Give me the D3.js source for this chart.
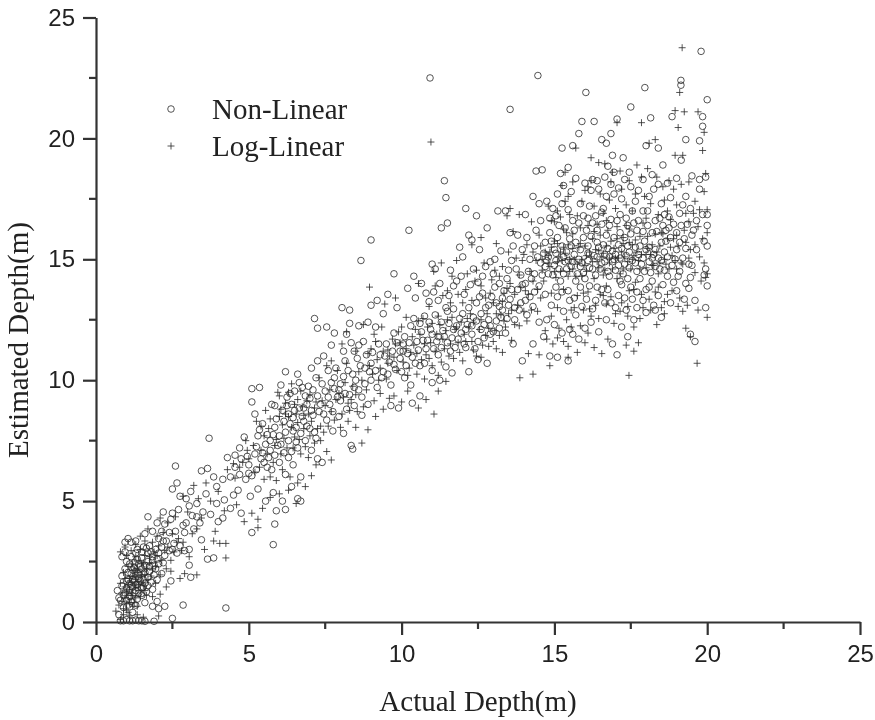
<!DOCTYPE html>
<html>
<head>
<meta charset="utf-8">
<script src="https://cdn.jsdelivr.net/npm/d3@7"></script>
<style>
  html, body { margin: 0; background: #fff; }
  svg { display: block; filter: blur(0.4px); }
  .tick-label { font-family: "Liberation Sans", Arial, sans-serif; font-size: 24px; fill: #222; }
  .title, .legend-label { font-family: "Liberation Serif", "Times New Roman", serif; font-size: 29px; fill: #222; }
</style>
</head>
<body>
<svg width="875" height="720"></svg>
<script>
// values, [actual, estimated]
var nonLinear = [
[0.8,0.05],[0.9,0.05],[1.0,0.1],[1.1,0.05],[1.2,0.05],[1.3,0.08],[1.4,0.05],[1.5,0.05],[1.6,0.03],[1.9,0.03],[2.5,0.15],[0.75,0.3],[0.9,0.6],[1.2,0.4],[1.3,0.7],[1.0,0.9],
[0.7,1.3],[0.75,1.0],[0.85,1.5],[0.95,1.2],[1.1,1.05],[1.25,1.2],[1.35,0.95],[1.5,1.1],[1.6,0.8],[1.85,0.65],[2.0,0.85],[2.25,0.65],[2.85,0.7],[4.25,0.58],[2.05,0.55],[1.55,1.45],
[0.85,1.9],[0.95,2.2],[1.05,1.75],[1.15,2.0],[1.3,1.55],[1.4,1.8],[1.55,1.75],[1.7,1.5],[1.85,1.35],[1.75,2.1],[1.45,2.3],[1.25,2.45],[1.0,2.5],[0.85,2.7],[0.95,2.9],[1.05,3.45],[1.15,3.3],[0.95,3.3],
[1.3,2.85],[1.5,2.65],[1.7,2.5],[1.9,2.35],[2.15,2.0],[2.45,1.7],[3.1,1.85],[1.55,3.1],[1.75,3.15],[1.95,3.0],[2.15,3.1],[2.4,2.95],[2.65,2.85],[2.9,2.95],[1.3,3.35],[1.6,3.65],[1.85,3.75],[2.05,3.45],[2.3,3.35],[2.55,3.25],
[1.7,4.35],[2.0,4.1],[2.2,4.55],[2.45,4.25],[2.6,3.75],[2.85,4.0],[2.15,3.75],[2.7,4.65],[2.95,4.1],[3.15,4.4],[3.05,3.0],[3.05,2.35],[3.45,3.4],[3.85,2.65],[3.65,2.6],
[2.6,6.45],[2.65,5.75],[2.5,5.5],[2.75,5.2],[2.95,5.1],[3.1,5.4],[3.3,4.9],[3.45,6.25],[3.65,6.35],[3.7,7.6],[3.85,6.0],[3.6,5.3],[3.95,4.9],[4.15,4.3],[4.4,4.7],[4.75,4.5],[5.1,3.7],[5.8,3.2],[5.85,4.05],[5.9,4.6],[6.2,4.65],
[3.95,5.6],[4.15,5.9],[4.3,6.8],[4.55,6.9],[4.7,7.2],[4.85,7.65],[5.0,6.5],[4.4,6.0],[4.65,5.45],[4.9,5.9],[5.05,5.2],[5.3,5.5],[5.55,5.0],[5.8,5.35],[6.1,5.0],[6.4,5.6],[6.6,5.1],[6.7,5.0],
[5.1,9.65],[5.1,9.1],[5.2,8.6],[5.35,9.7],[5.45,8.2],[5.3,7.7],[5.55,7.35],[5.7,7.1],[5.2,6.95],[5.5,6.6],[5.75,6.3],[6.0,6.6],[6.2,6.1],[6.45,6.5],[6.7,6.0],[5.85,8.05],[6.0,7.7],[6.15,8.3],[6.3,7.5],[6.45,7.9],[6.6,7.2],[6.85,7.5],[7.05,7.1],[7.25,6.75],[7.4,6.6],
[5.75,9.0],[5.85,8.95],[6.05,9.8],[6.2,10.35],[6.35,9.45],[6.5,8.75],[6.6,10.25],[6.75,9.7],[6.9,9.0],[7.1,8.55],[7.25,9.35],[7.4,9.85],[7.55,8.35],[7.75,7.9],[7.95,8.5],[8.1,7.8],[8.4,7.15],[8.35,7.3],[7.15,12.55],[7.25,12.15],[7.55,12.2],[7.7,11.45],[7.8,11.95],
[7.05,10.5],[7.25,10.8],[7.45,11.0],[7.6,10.4],[7.8,10.1],[7.95,9.6],[8.1,10.15],[8.3,9.4],[8.5,10.0],[8.7,9.3],[8.9,9.0],[8.05,13.0],[8.3,12.9],[8.3,12.35],[8.6,12.25],[8.75,11.6],[8.1,11.2],[8.35,11.55],[8.55,10.9],[8.8,10.5],[9.0,10.0],[9.2,9.7],[9.4,10.35],[9.65,9.8],
[8.67,14.95],[9.0,15.8],[9.0,13.1],[9.2,13.3],[9.15,12.2],[9.4,12.75],[9.55,13.55],[9.75,14.4],[9.85,13.0],[9.5,11.5],[9.75,11.95],[9.95,11.2],[10.0,10.35],[10.15,10.6],[10.3,9.8],[9.9,8.85],[10.35,9.05],[10.6,9.35],[9.65,8.95],[10.2,13.8],[10.24,16.2],[10.4,14.3],[10.45,13.4],[10.65,14.0],[10.8,13.6],
[10.1,11.8],[10.3,12.25],[10.5,11.6],[10.65,12.0],[10.8,11.3],[11.0,11.9],[11.2,11.05],[10.75,10.7],[11.0,10.4],[11.25,10.0],[11.0,9.9],[11.45,10.55],[11.65,10.3],[10.93,22.5],[11.0,14.8],[11.1,14.6],[11.2,13.3],[11.3,16.3],[11.4,18.25],[11.5,16.5],[11.45,17.55],[11.6,14.55],[11.7,13.9],[11.3,12.4],[11.5,12.85],[11.7,12.1],[11.9,12.55],
[11.9,15.5],[12.0,15.1],[12.1,17.1],[12.2,16.0],[12.3,15.8],[12.45,16.8],[12.65,14.3],[12.8,16.3],[12.9,14.9],[13.05,15.0],[13.15,17.0],[12.05,13.55],[12.25,13.95],[12.45,13.2],[12.65,13.6],[12.85,13.1],[13.05,13.85],[12.1,11.35],[12.3,11.9],[12.5,11.6],[12.7,12.3],[12.9,11.9],[13.1,12.45],[12.2,10.35],[12.5,10.85],[12.8,10.7],
[13.3,13.4],[13.45,14.2],[13.6,14.95],[13.55,21.2],[13.4,17.0],[13.55,16.1],[13.75,14.6],[13.95,15.4],[14.1,15.9],[14.25,14.2],[14.4,16.2],[14.3,17.6],[14.4,18.65],[14.46,22.6],[14.6,18.7],[14.5,17.3],[13.25,12.6],[13.5,13.1],[13.7,12.5],[13.9,13.2],[14.1,12.7],[14.3,13.05],[14.5,12.4],[13.4,11.95],[13.65,11.5],[13.95,10.8],[14.3,11.5],[14.65,11.8],
[14.7,15.7],[14.85,16.1],[15.0,15.4],[15.15,16.4],[15.3,15.1],[14.8,14.4],[15.0,14.75],[15.2,14.1],[15.4,14.6],[15.55,15.55],[14.7,13.55],[14.9,13.1],[15.1,13.45],[15.3,12.85],[15.5,13.3],[15.7,12.7],[14.95,17.1],[15.1,17.7],[15.3,18.05],[15.45,18.8],[15.6,19.7],[15.8,20.2],[15.9,20.7],[15.2,18.55],[15.25,19.6],
[15.65,16.2],[15.8,15.0],[15.95,16.8],[16.1,15.25],[16.25,14.6],[16.4,15.7],[16.55,14.85],[15.7,14.1],[15.95,14.45],[16.15,13.9],[16.35,13.3],[16.55,13.75],[15.6,11.9],[15.45,10.8],[15.8,11.7],[16.0,12.15],[16.2,12.4],[16.45,12.0],[16.7,12.5],[16.03,21.9],[16.3,20.7],[16.55,19.95],[16.7,19.8],[16.85,20.2],[16.9,19.3],[16.25,18.3],[16.45,17.9],[16.65,18.4],[16.85,18.1],[16.15,17.2],[16.35,16.8],[16.6,17.1],[16.8,16.4],[16.95,17.7],
[16.75,15.45],[16.95,15.0],[17.1,15.6],[17.3,14.8],[17.45,15.3],[16.8,14.3],[17.0,14.55],[17.2,13.95],[17.4,14.2],[16.85,13.2],[17.1,13.5],[17.35,12.9],[17.55,13.35],[16.9,11.5],[17.05,11.05],[17.2,12.2],[17.4,11.8],[17.6,12.5],[17.05,20.8],[17.5,21.3],[17.2,17.5],[17.35,16.7],[17.5,18.0],[17.65,17.4],[17.25,19.2],[17.45,18.6],[17.96,22.1],[18.0,19.7],[18.15,20.85],[17.7,16.2],
[17.75,15.2],[17.95,15.75],[18.1,14.9],[18.3,15.4],[18.45,14.6],[17.8,14.2],[18.0,13.75],[18.2,14.1],[18.4,13.5],[17.7,13.0],[18.0,12.8],[18.25,13.1],[18.5,12.6],[17.9,17.0],[18.1,17.6],[18.3,16.6],[18.5,17.3],[18.65,16.2],[18.2,18.5],[18.4,19.6],[18.55,18.9],[18.7,18.15],[18.85,20.9],[19.14,22.4],[19.14,22.2],
[18.6,15.3],[18.8,15.9],[18.95,15.0],[19.15,16.4],[19.3,15.45],[18.7,14.3],[18.9,14.05],[19.1,14.5],[19.3,14.0],[19.45,14.25],[19.1,16.9],[19.3,17.6],[19.5,18.45],[19.45,17.1],[19.15,19.1],[19.3,19.95],[19.55,16.2],[19.6,11.6],[19.45,11.9],[19.6,13.3],[19.5,14.75],[19.65,15.4],[19.65,16.6],[19.75,18.3],[19.8,23.6],[19.75,19.9],[19.85,20.5],[19.85,20.9],[19.75,17.9],[19.85,16.85],[19.9,15.75],[20.0,21.6],[19.95,18.4],[20.0,16.85],[20.0,16.4],[20.0,15.55],[19.95,14.6],[19.9,14.35],[20.0,13.9],[19.95,13.0],
[6.3,8.6],[6.55,8.05],[6.8,8.3],[7.0,8.0],[7.2,7.6],[6.95,9.75],[7.3,8.7],[7.6,9.3],[7.8,9.65],[8.0,9.15],[8.2,8.8],[8.45,8.95],[8.7,8.55],[8.15,10.8],[9.05,11.15],[9.3,11.05],[9.6,10.75],[9.8,10.45],[10.05,11.2],[10.35,10.95],[10.6,10.6],[10.9,12.4],[11.15,11.6],[11.4,11.8],[11.6,11.2],[11.85,11.7],[12.1,12.1],[12.35,12.6],[12.6,12.75],[12.85,12.5],[13.2,13.05],[13.55,13.35],[13.8,13.75],[14.05,14.0],[14.35,14.4],[14.55,14.85],[14.75,14.95],[15.05,15.25],[15.35,14.9],[15.6,14.9],[15.85,14.7],[16.1,14.95],[16.4,15.1],[16.65,15.2],[16.9,15.35],[17.15,15.05],[17.4,15.55],[17.65,14.85],[17.9,15.05],[18.2,15.05],[18.5,15.7],[18.75,16.3],[19.0,16.1],[19.25,15.85],[19.5,16.0],
[1.0,1.4],[1.1,1.6],[1.2,1.75],[1.3,2.1],[1.4,2.0],[1.5,2.2],[1.15,2.7],[1.25,2.25],[1.35,2.6],[1.6,2.35],[1.7,2.85],[1.85,2.7],[2.0,2.6],[2.25,2.75],[3.3,4.35],[3.5,4.55],[3.75,4.45],[4.0,4.15],[4.2,5.05],[4.5,5.25],[4.7,6.1],[5.0,6.15],[5.25,6.3],[5.45,7.0],[5.65,6.8],[5.95,7.3],[6.15,7.0],[6.4,7.05],[6.25,8.95],[6.8,8.85],[7.0,9.25],
// denser part of the cloud
[0.8,0.9],[0.9,1.1],[1.0,1.7],[1.05,0.7],[1.1,1.3],[1.15,0.85],[1.2,1.45],[1.25,1.7],[1.3,1.3],[1.35,1.55],[1.4,1.2],[1.45,1.7],[1.5,1.4],[1.55,2.0],[1.6,1.6],[1.65,1.25],[1.7,1.85],[1.8,1.65],[1.9,1.95],[2.0,1.75],[1.05,2.05],[1.1,2.4],[1.2,2.15],[1.4,2.4],[1.6,2.05],[1.75,2.3],[1.85,2.55],[1.95,2.2],[2.05,2.4],[2.2,2.45],[1.35,3.0],[1.5,2.9],[1.65,3.05],[1.8,2.9],[2.05,2.85],[2.2,3.35],[2.4,3.7],[2.5,3.0],[2.75,3.15],[2.25,4.05],[2.5,4.5],[2.9,3.7],[3.2,3.85],[3.05,4.8],[3.4,4.1],
[4.55,6.4],[4.75,6.75],[4.95,6.85],[5.1,6.05],[5.25,7.25],[5.4,6.75],[5.35,7.95],[5.6,6.4],[5.6,7.75],[5.7,7.5],[5.8,7.75],[5.85,6.9],[5.9,8.4],[6.05,7.35],[6.1,8.75],[6.2,7.85],[6.25,9.3],[6.3,6.8],[6.35,8.2],[6.4,9.0],[6.45,8.45],[6.5,9.55],[6.55,7.45],[6.65,8.85],[6.65,9.9],[6.7,7.8],[6.75,8.5],[6.85,9.35],[6.9,8.1],[7.05,8.75],[7.1,9.6],[7.15,7.85],[7.2,10.1],[7.35,9.0],[7.45,8.6],[7.5,9.55],[7.65,9.0],[7.7,9.9],[7.75,8.7],[7.85,10.5],[7.9,9.3],[8.0,9.85],[8.15,9.45],[8.25,10.4],[8.4,10.25],[8.45,9.7],[8.6,9.6],[8.65,10.6],[8.8,9.85],[8.95,10.35],[8.2,11.9],[8.45,11.2],[8.6,11.45],[8.85,11.05],[8.9,12.4],
[9.0,10.7],[9.15,10.4],[9.25,11.5],[9.35,10.1],[9.45,11.0],[9.55,10.25],[9.7,11.2],[9.75,10.65],[9.85,11.55],[9.95,10.9],[10.05,11.5],[10.1,10.1],[10.2,11.1],[10.25,11.55],[10.4,12.55],[10.45,10.7],[10.55,11.25],[10.6,12.35],[10.7,11.65],[10.75,12.65],[10.85,11.65],[10.95,12.1],[11.05,11.3],[11.1,12.7],[11.2,11.8],[11.3,11.35],[11.35,12.05],[11.45,13.0],[11.5,11.55],[11.55,12.35],[11.65,11.75],[11.7,12.95],[11.75,11.35],[11.8,12.25],[11.95,11.95],[12.0,12.75],[12.05,11.5],[12.15,12.3],[12.2,13.0],[12.3,12.25],[12.4,11.3],[12.45,12.45],[12.55,13.45],[12.6,12.1],[12.7,11.75],[12.75,13.0],[12.9,12.25],[12.95,13.45],[13.0,12.0],[13.1,13.2],[13.2,12.15],[13.3,12.9],[13.35,13.7],[13.45,12.55],[13.6,13.75],[13.7,13.0],[13.85,12.9],[13.95,13.95],[14.05,13.3],[14.15,14.5],[14.2,13.45],[14.35,13.65],[14.45,15.1],[14.5,13.9],[14.6,14.35],
[10.9,13.25],[11.05,13.65],[11.25,14.0],[11.55,13.5],[11.8,14.1],[11.95,14.3],[12.35,14.6],[12.5,14.05],[12.55,15.4],[12.75,14.7],[13.0,14.4],[13.2,14.0],[13.25,15.35],[13.5,14.55],[13.65,15.55],[13.8,16.0],[13.9,14.35],[14.05,16.85],[14.2,15.0],[14.35,15.55],[14.55,16.6],[14.65,15.25],
[14.7,14.7],[14.8,15.1],[14.9,15.75],[14.95,14.35],[15.05,14.95],[15.1,15.9],[15.15,14.6],[15.25,15.55],[15.3,14.4],[15.35,16.3],[15.4,15.3],[15.45,14.95],[15.5,15.85],[15.55,14.7],[15.6,16.6],[15.65,15.2],[15.7,15.7],[15.75,14.4],[15.8,16.5],[15.85,15.4],[15.9,14.85],[15.95,15.9],[16.0,14.2],[16.05,16.2],[16.1,15.55],[16.15,14.65],[16.2,15.95],[16.25,16.5],[16.3,15.15],[16.35,14.35],[16.4,16.2],[16.45,15.5],[16.5,14.6],[16.55,16.45],[16.6,15.6],[16.65,14.9],[16.7,16.0],[16.75,14.5],[16.8,15.1],[16.85,16.65],[16.9,14.9],[16.95,15.9],[17.0,15.2],[17.05,16.6],[17.1,14.75],[17.15,16.1],[17.2,15.45],[17.25,14.4],[17.3,15.9],[17.35,15.15],[17.4,16.4],[17.45,14.65],[17.5,16.05],[17.55,14.95],[17.6,16.5],[17.65,15.5],[17.7,14.5],[17.75,16.6],[17.8,15.55],[17.85,14.8],[17.9,16.15],[17.95,14.5],[18.0,15.4],[18.05,16.4],[18.1,15.5],[18.15,14.45],[18.2,16.1],[18.25,15.2],[18.3,14.7],[18.35,16.15],[18.4,15.05],[18.45,16.7],[18.5,14.95],[18.55,16.4],[18.6,14.55],[18.65,15.75],[18.7,15.1],[18.75,16.75],[18.85,14.75],[18.9,16.45],[19.0,15.4],[19.05,14.3],[19.1,15.7],[19.2,15.05],[19.35,16.45],[19.4,14.8],
[14.75,17.4],[14.85,16.7],[15.05,16.8],[15.25,17.3],[15.45,17.05],[15.55,17.8],[15.7,18.35],[15.85,17.3],[16.0,18.15],[16.1,16.7],[16.2,17.85],[16.4,18.25],[16.55,16.95],[16.7,17.6],[16.75,18.85],[16.95,18.6],[17.1,17.95],[17.15,16.85],[17.3,18.3],[17.55,17.0],[17.75,17.85],[17.9,18.3],[18.05,17.0],[18.25,17.9],[18.4,18.1],[18.6,16.85],[18.8,17.55],[19.0,18.35],[19.2,17.25],[15.05,13.85],[15.25,13.65],[15.45,13.7],[15.65,13.4],[15.85,13.85],[15.9,13.05],[16.05,13.35],[16.25,12.95],[16.4,13.85],[16.65,13.2],[16.75,13.75],[17.0,13.0],[17.15,14.1],[17.3,13.4],[17.5,13.85],[17.7,13.65],[17.9,13.3],[18.1,13.85],[18.3,12.9],[18.55,13.95],[18.8,13.2],[19.0,13.7],[19.25,13.35],[19.4,13.8],[15.0,12.3],[15.25,11.95],[15.5,12.1],[14.85,11.0],[15.1,10.95],[14.75,12.5]
];

var logLinear = [
[0.65,0.45],[0.8,0.1],[0.9,0.3],[1.0,0.5],[1.1,0.25],[1.2,0.65],[1.35,0.3],[1.55,0.2],[2.05,0.25],[0.85,0.85],[1.0,0.75],[1.15,0.95],[1.3,1.0],[1.45,1.3],[1.65,1.1],[1.85,1.05],[2.1,1.15],[2.3,1.45],[0.8,1.6],[0.95,1.45],[1.1,1.35],[1.25,1.5],
[0.9,2.05],[1.05,2.3],[1.2,1.9],[1.35,2.2],[1.5,1.95],[1.65,2.2],[1.8,1.9],[1.95,2.3],[2.1,1.95],[2.45,2.1],[2.75,1.8],[2.9,2.0],[1.0,2.75],[1.15,2.95],[1.3,2.7],[1.45,3.0],[1.6,2.75],[1.75,2.45],[1.9,2.9],[2.05,3.15],[2.25,2.95],[2.45,2.55],[2.55,2.9],[3.05,2.7],[3.3,1.95],
[0.8,2.9],[0.95,3.1],[1.45,3.55],[1.7,3.85],[1.85,3.3],[2.2,3.7],[2.35,4.1],[2.5,3.65],[2.7,3.45],[2.85,3.3],[2.6,4.35],[3.0,4.55],[3.15,3.65],[3.3,3.85],[3.45,4.3],[3.55,3.0],[3.9,3.75],[4.25,2.65],[4.25,3.25],[3.85,3.35],[4.05,3.25],[2.85,5.2],[3.2,5.65],[3.35,5.1],[3.6,5.75],[3.75,5.0],[4.0,5.4],[4.2,4.6],[4.6,4.85],[4.85,4.15],[5.1,4.5],[5.3,4.25],[5.45,4.7],[5.7,5.15],[6.0,5.3],[6.3,5.45],[6.55,4.9],[5.3,3.9],
[4.3,6.3],[4.55,5.95],[4.8,6.6],[4.95,7.1],[5.15,7.3],[5.35,6.4],[5.5,5.9],[5.7,6.0],[5.9,5.85],[6.1,6.3],[6.35,6.0],[6.6,5.75],[6.85,5.6],[7.05,6.05],[7.2,6.5],[5.4,8.1],[5.55,8.75],[5.7,8.4],[5.9,7.55],[6.1,8.15],[6.25,7.2],[6.5,7.65],[6.7,6.95],[6.95,6.8],[7.15,7.4],[7.35,7.5],[7.55,7.05],[7.7,6.7],
[6.0,9.35],[6.2,9.05],[6.4,9.85],[6.6,9.2],[6.8,8.0],[6.95,8.6],[7.15,8.85],[7.35,8.1],[7.5,8.95],[7.7,8.7],[7.85,9.2],[8.05,8.6],[8.25,8.3],[8.5,8.05],[8.7,7.4],[8.9,7.95],[9.15,8.5],[9.4,8.8],[9.6,9.25],[7.3,10.1],[7.55,10.6],[7.7,10.8],[7.9,10.4],[8.15,9.9],[8.4,9.75],[8.6,10.35],[8.85,9.6],[9.05,10.25],[9.3,9.45],[9.5,10.05],[9.75,9.35],[10.0,9.1],[10.2,9.55],[10.55,8.85],[11.06,8.6],[11.2,9.55],[11.45,9.95],[10.8,9.2],
[8.05,11.5],[8.2,12.0],[8.5,11.2],[8.75,12.3],[8.95,13.85],[8.9,11.1],[9.15,11.6],[9.35,12.2],[9.55,11.25],[9.75,10.95],[9.95,11.55],[10.15,12.6],[10.4,11.45],[10.6,11.9],[10.8,11.05],[10.2,10.2],[10.5,10.25],[10.75,10.05],[11.0,10.6],[11.2,10.2],[10.96,19.85],[11.3,14.85],[11.05,14.5],[10.55,14.0],[9.45,13.15],[9.8,13.4],[11.5,13.7],[11.65,14.3],[11.2,12.65],[11.45,12.05],[11.65,12.6],[11.85,11.55],[12.0,10.8],[12.2,12.2],[12.35,11.25],
[11.8,14.95],[12.0,13.2],[12.15,14.4],[12.3,15.6],[12.45,14.55],[12.6,15.9],[12.75,13.4],[12.95,14.15],[13.1,15.65],[13.3,14.7],[13.45,16.8],[13.5,15.3],[13.65,16.15],[13.55,17.1],[13.85,16.85],[13.85,14.35],[14.05,13.7],[14.25,16.55],[14.0,15.2],[12.6,10.95],[12.85,11.4],[13.1,11.3],[13.3,11.15],[13.05,12.05],[13.35,12.45],[13.6,12.9],[13.85,12.25],[14.1,12.45],[13.6,11.65],[13.87,10.1],[14.3,10.25],[14.15,11.1],[14.5,11.05],[14.75,11.7],
[14.45,13.75],[14.65,14.1],[14.85,14.7],[15.05,14.25],[15.25,14.95],[15.45,14.3],[15.6,14.6],[14.55,15.55],[14.8,15.15],[15.0,15.75],[15.2,15.3],[15.4,16.1],[15.6,15.45],[14.9,16.6],[15.1,17.0],[15.35,17.4],[15.5,16.85],[15.35,18.6],[15.6,18.2],[15.7,19.6],[14.9,12.65],[15.15,12.15],[15.4,12.5],[15.65,13.0],[15.45,11.4],[15.75,11.15],[15.1,11.75],[15.45,10.95],
[15.85,15.65],[16.05,15.15],[16.25,15.85],[16.45,15.35],[16.65,14.55],[16.85,15.75],[15.9,14.3],[16.1,13.65],[16.3,14.2],[16.5,13.55],[16.7,13.9],[15.95,12.9],[16.2,12.65],[16.45,12.55],[16.7,13.15],[16.0,11.55],[16.3,11.35],[16.55,11.1],[16.75,11.7],[16.95,12.35],[16.0,17.85],[16.2,18.25],[16.4,16.45],[16.6,16.9],[16.8,17.45],[16.2,19.2],[16.45,19.0],[16.65,18.95],[17.05,20.65],[16.9,18.6],
[17.05,16.35],[17.25,15.9],[17.45,16.25],[17.6,15.15],[17.8,15.95],[17.05,14.2],[17.25,14.6],[17.45,13.7],[17.65,14.05],[17.85,13.55],[17.15,12.85],[17.4,12.65],[17.6,12.2],[17.8,12.55],[17.44,10.2],[17.35,11.45],[17.6,11.2],[17.75,11.55],[17.2,17.9],[17.45,18.25],[17.65,17.7],[17.85,18.4],[18.05,18.75],[18.1,19.8],[18.3,19.95],[17.85,20.65],[18.0,16.7],
[18.05,15.45],[18.25,14.75],[18.45,15.55],[18.65,14.8],[18.85,15.15],[18.1,13.35],[18.3,13.65],[18.5,13.0],[18.7,13.55],[18.35,12.3],[18.6,12.75],[18.4,16.85],[18.6,17.45],[18.8,16.65],[19.0,17.25],[18.75,18.25],[18.95,19.3],[18.95,21.15],[19.18,23.75],[19.1,21.9],[19.25,21.1],[19.05,20.45],[19.2,19.3],[19.4,18.2],[19.0,14.6],[19.2,14.8],[19.4,15.05],[19.1,13.4],[19.35,13.1],[19.3,12.15],[19.45,11.8],[19.67,10.7],
[19.55,16.9],[19.6,17.4],[19.75,17.05],[19.7,16.35],[19.6,15.6],[19.75,15.1],[19.85,15.85],[19.6,14.45],[19.8,14.1],[19.9,14.85],[19.9,17.8],[19.95,18.55],[19.85,19.5],[19.9,20.25],[19.7,21.1],[20.0,17.05],[20.0,16.1],[20.0,14.4],[20.0,12.6],[19.95,14.25],[19.7,12.9],
[1.1,1.8],[1.2,2.4],[1.3,1.75],[1.4,1.55],[1.55,2.45],[1.05,1.1],[1.15,1.2],[0.95,1.8],[1.25,2.15],[1.4,2.55],[1.35,2.05],[1.5,1.65],[1.6,1.95],[5.95,9.5],[6.05,8.8],[6.3,8.5],[6.55,8.6],[6.75,8.9],[7.0,9.4],[8.2,10.7],[8.35,9.2],[9.2,10.85],[9.55,10.7],[9.8,11.5],[10.0,12.2],[10.3,11.15],[10.45,12.1],[10.7,12.55],[10.95,11.55],[11.15,11.9],[11.4,11.3],[11.55,11.0],[11.8,12.2],[12.05,11.9],[12.25,12.75],[12.55,12.1],[12.75,11.85],[13.0,13.2],[13.25,12.7],[13.45,13.8],[13.7,13.55],[13.95,14.95],[14.2,14.5],[14.4,14.95],[14.6,15.0],[14.85,15.3],[15.1,14.9],[15.3,15.5],[15.5,15.0],[15.75,14.8],[16.0,14.75],[16.2,15.1],[16.4,14.9],[16.6,15.25],[16.8,14.85],[17.0,15.05],[17.2,15.3],[17.4,14.9],[17.55,15.6],[17.75,14.95],[18.0,15.2],[18.2,15.6],[18.4,14.4],[18.55,16.05],[18.8,15.5],[19.0,16.0],[19.25,16.2],[19.4,16.55],
// denser part of the cloud
[0.75,0.7],[0.85,1.2],[0.9,0.55],[0.95,1.0],[1.0,1.25],[1.05,0.4],[1.05,1.55],[1.1,0.8],[1.15,1.65],[1.2,1.1],[1.25,0.8],[1.25,1.9],[1.3,1.4],[1.35,0.65],[1.4,1.85],[1.45,1.05],[1.5,2.4],[1.55,1.5],[1.6,1.3],[1.7,1.75],[1.75,2.7],[1.85,2.15],[1.95,1.6],[2.0,2.75],[2.15,2.55],[2.3,2.2],[2.35,3.1],[2.65,3.3],[2.8,2.95],[1.3,3.2],[1.6,3.35],[2.0,3.55],[2.1,4.3],
[4.5,6.55],[4.7,6.4],[4.9,7.5],[5.0,6.75],[5.2,6.2],[5.25,8.3],[5.4,7.1],[5.5,7.7],[5.6,6.95],[5.65,8.0],[5.8,6.6],[5.85,7.3],[6.0,8.5],[6.05,6.95],[6.15,7.6],[6.2,8.6],[6.3,9.5],[6.4,8.05],[6.45,7.2],[6.5,9.0],[6.6,8.25],[6.65,7.55],[6.7,9.55],[6.8,8.55],[6.85,7.25],[6.9,9.15],[7.0,7.7],[7.05,8.3],[7.2,9.1],[7.25,8.0],[7.4,9.15],[7.45,7.85],[7.6,8.1],[7.65,9.6],[7.8,8.35],[7.95,9.45],[8.0,8.05],[8.1,9.3],[8.25,9.05],[8.3,8.75],[8.5,9.4],[8.55,8.7],[8.7,10.0],[8.75,8.9],[8.95,10.6],[9.1,9.15],[9.25,10.0],
[9.0,11.3],[9.1,11.9],[9.3,10.5],[9.4,11.2],[9.6,11.0],[9.7,11.7],[9.85,10.4],[9.9,12.0],[10.05,10.75],[10.15,11.3],[10.25,10.5],[10.35,11.8],[10.5,11.1],[10.55,12.45],[10.65,10.85],[10.75,11.5],[10.85,12.2],[10.9,10.9],[11.0,12.35],[11.1,11.2],[11.25,12.3],[11.3,10.75],[11.35,11.7],[11.5,12.5],[11.6,11.5],[11.7,10.9],[11.75,12.1],[11.9,11.15],[11.95,12.4],[12.1,11.6],[12.15,12.55],[12.3,11.6],[12.35,12.4],[12.45,11.0],[12.6,12.5],[12.65,11.45],[12.8,12.75],[12.85,12.15],[13.0,11.6],[13.1,12.75],[13.2,11.85],[13.3,13.25],[13.4,12.2],[13.5,12.75],[13.55,14.0],[13.7,12.3],[13.8,13.1],[13.9,13.85],[14.0,12.85],[14.15,13.55],[14.25,12.9],[14.3,14.1],[14.45,12.85],[14.55,13.4],
[10.9,13.05],[11.1,13.9],[11.35,13.5],[11.6,13.2],[11.85,13.55],[12.1,13.75],[12.3,13.3],[12.4,14.1],[12.6,13.9],[12.7,14.85],[12.9,13.6],[13.05,14.55],[13.2,14.3],[13.35,13.6],[13.75,15.05],[14.1,15.6],[14.3,15.3],[14.5,16.0],[14.6,14.55],
[14.7,15.3],[14.8,14.85],[14.9,15.5],[15.0,14.5],[15.1,15.65],[15.15,15.1],[15.2,14.5],[15.3,16.25],[15.35,15.25],[15.45,15.6],[15.5,14.5],[15.6,16.05],[15.65,15.0],[15.7,14.3],[15.8,15.5],[15.85,16.3],[15.9,15.0],[16.0,15.55],[16.05,14.5],[16.1,16.4],[16.15,15.3],[16.25,14.9],[16.3,16.15],[16.35,15.4],[16.45,14.65],[16.5,16.0],[16.55,15.1],[16.6,14.35],[16.7,15.55],[16.75,16.2],[16.8,15.05],[16.9,14.6],[16.95,15.45],[17.05,15.85],[17.1,15.05],[17.15,14.4],[17.25,15.65],[17.3,15.1],[17.35,16.4],[17.45,15.7],[17.5,14.6],[17.55,15.0],[17.65,15.8],[17.7,15.3],[17.8,14.6],[17.85,15.2],[17.9,16.5],[18.0,14.65],[18.05,15.95],[18.15,15.2],[18.2,14.75],[18.3,16.05],[18.35,15.3],[18.45,14.85],[18.5,16.1],[18.6,15.0],[18.7,15.85],[18.75,14.6],[18.9,15.85],[18.95,14.95],[19.05,15.55],[19.15,14.85],[19.3,15.7],[19.45,15.4],
[14.8,17.2],[15.0,16.55],[15.2,16.75],[15.25,18.05],[15.45,17.6],[15.75,16.8],[15.9,17.4],[16.1,18.0],[16.3,17.2],[16.5,17.7],[16.7,16.6],[16.85,18.2],[17.0,17.1],[17.15,18.65],[17.35,17.25],[17.55,17.0],[17.7,18.9],[17.95,17.6],[18.15,17.3],[18.35,18.4],[18.55,18.0],[18.7,17.0],[18.9,17.9],[19.15,18.1],[19.3,16.9],[14.9,13.6],[15.1,13.0],[15.3,13.75],[15.55,12.9],[15.75,13.5],[15.95,13.6],[16.15,12.95],[16.35,13.1],[16.6,13.5],[16.85,13.45],[17.0,12.75],[17.2,13.2],[17.4,13.05],[17.6,13.75],[17.9,13.0],[18.15,12.9],[18.4,13.85],[18.6,13.25],[18.85,13.7],[19.05,13.05],[19.2,12.85],[14.7,12.05],[14.95,11.5],[15.3,11.6],[15.55,12.2],[15.85,12.25],[16.1,11.95],[14.85,10.6]
];

var xTicks = [0, 5, 10, 15, 20, 25];
var yTicks = [0, 5, 10, 15, 20, 25];
var xMinor = [2.5, 7.5, 12.5, 17.5, 22.5];
var yMinor = [2.5, 7.5, 12.5, 17.5, 22.5];
var legendItems = ['Non-Linear', 'Log-Linear'];

var svg = d3.select('svg');

var xScale = d3.scaleLinear().domain([0, 25]).range([96, 860]);
var yScale = d3.scaleLinear().domain([0, 25]).range([622, 17.5]);

var plus = 'M-3.5,0H3.5M0,-3.5V3.5';
var markColor = '#2a2a2a';

var marks = svg.append('g');

marks.append('g').selectAll('circle')
  .data(nonLinear)
  .enter()
  .append('circle')
    .attr('cx', function(d) { return xScale(d[0]); })
    .attr('cy', function(d) { return yScale(d[1]); })
    .attr('r', 3.3)
    .attr('fill', 'none')
    .attr('stroke', markColor)
    .attr('stroke-width', 0.8);

marks.append('g').selectAll('path')
  .data(logLinear)
  .enter()
  .append('path')
    .attr('d', plus)
    .attr('transform', function(d) {
      return 'translate(' + xScale(d[0]) + ',' + yScale(d[1]) + ')';
    })
    .attr('fill', 'none')
    .attr('stroke', markColor)
    .attr('stroke-width', 0.8);

// axes
function styleAxis(g) {
  g.selectAll('path, line').attr('stroke', '#333').attr('stroke-width', 2.2);
  g.selectAll('text').attr('class', 'tick-label').attr('fill', null);
}

var xAxis = svg.append('g')
  .attr('transform', 'translate(0,622)')
  .call(d3.axisBottom(xScale).tickValues(xTicks).tickSize(13).tickSizeOuter(0).tickPadding(10));
xAxis.selectAll('.minor').data(xMinor).enter().append('line')
  .attr('class', 'minor')
  .attr('x1', function(d) { return xScale(d); })
  .attr('x2', function(d) { return xScale(d); })
  .attr('y2', 7);
styleAxis(xAxis);

var yAxis = svg.append('g')
  .attr('transform', 'translate(96,0)')
  .call(d3.axisLeft(yScale).tickValues(yTicks).tickSize(13).tickSizeOuter(0).tickPadding(8));
yAxis.selectAll('.minor').data(yMinor).enter().append('line')
  .attr('class', 'minor')
  .attr('y1', function(d) { return yScale(d); })
  .attr('y2', function(d) { return yScale(d); })
  .attr('x2', -7);
styleAxis(yAxis);

svg.append('text')
  .attr('class', 'title')
  .attr('x', 478)
  .attr('y', 711)
  .attr('text-anchor', 'middle')
  .text('Actual Depth(m)');

svg.append('text')
  .attr('class', 'title')
  .attr('transform', 'translate(28,340) rotate(-90)')
  .attr('text-anchor', 'middle')
  .text('Estimated Depth(m)');

// legend
var legend = svg.selectAll('.legend')
  .data(legendItems)
  .enter()
  .append('g')
    .attr('class', 'legend')
    .attr('transform', function(d, i) { return 'translate(0,' + (109 + i * 37) + ')'; });

legend.append('text')
  .attr('class', 'legend-label')
  .attr('x', 212)
  .attr('y', 10)
  .text(function(d) { return d; });

legend.filter(function(d, i) { return i === 0; }).append('circle')
  .attr('cx', 171)
  .attr('r', 3.3)
  .attr('fill', 'none')
  .attr('stroke', markColor)
  .attr('stroke-width', 0.8);

legend.filter(function(d, i) { return i === 1; }).append('path')
  .attr('d', plus)
  .attr('transform', 'translate(171,0)')
  .attr('fill', 'none')
  .attr('stroke', markColor)
  .attr('stroke-width', 0.8);
</script>
</body>
</html>
